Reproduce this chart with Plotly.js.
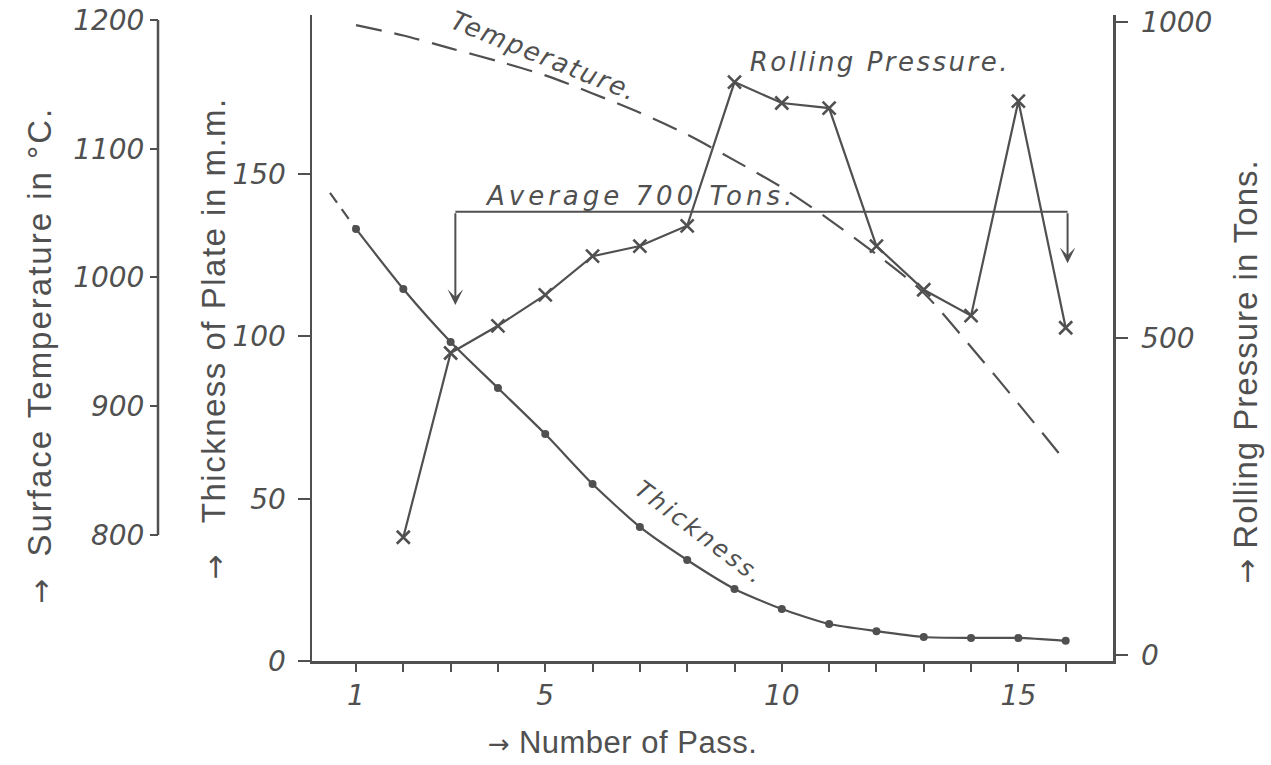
<!DOCTYPE html>
<html><head><meta charset="utf-8">
<script src="https://cdn.plot.ly/plotly-3.0.1.min.js"></script>
<style>
html,body{margin:0;padding:0;background:#fff;}
#chart{width:1271px;height:765px;}
.annotation[data-index="0"] .annotation-text{letter-spacing:2px;}
.annotation[data-index="1"] .annotation-text{letter-spacing:1.5px;}
.annotation[data-index="2"] .annotation-text{letter-spacing:1px;}
.annotation[data-index="3"] .annotation-text{letter-spacing:0.5px;}
.annotation[data-index="4"] .annotation-text{letter-spacing:2px;}
.annotation[data-index="5"] .annotation-text{letter-spacing:2.5px;}
.annotation[data-index="6"] .annotation-text{letter-spacing:4px;}
.annotation[data-index="7"] .annotation-text{letter-spacing:3px;}
</style></head><body><div id="chart"></div>
<script>
// ---- data ----
const passes = [1,2,3,4,5,6,7,8,9,10,11,12,13,14,15,16];
const thicknessMm = [133.1,114.6,98.3,84.1,69.9,54.5,41.3,31.1,22.2,16.0,11.4,9.2,7.4,7.1,7.1,6.2];
const thicknessLeadPass = [0.45, 1];
const thicknessLeadMm = [144.2, 133.1];
const temperatureC = [1196,1188,1178,1168,1157,1143,1128,1111,1091,1070,1045,1018,988,946,902,857];
const pressurePass = [2,3,4,5,6,7,8,9,10,11,12,13,14,15,16];
const pressureTons = [186,477,520,569,630,646,678,905,872,864,646,577,536,875,517];
const averageTons = 700;
const averagePass = [3.1, 16.04];
const averageArrowTipTons = [553, 619];
const xTickVals = passes;
const xTickText = ['1','','','','5','','','','','10','','','','','15',''];
const thickTickVals = [0,50,100,150];
const tempTickVals = [800,900,1000,1100,1200];
const pressTickVals = [0,500,1000];

// ---- styling ----
const INK = '#505050';
const W = 1271, H = 765;
const px = v => v / W;            // pixel -> paper x
const py = v => (H - v) / H;      // pixel -> paper y
const tickFont = {family:'DejaVu Sans', size:28, color:INK, style:'italic'};
const titleFont = {family:'Liberation Sans', size:33, color:INK};
const labelFont = {family:'DejaVu Sans', size:26, color:INK, style:'italic'};
const arrowSpan = sz => '<span style="font-family:\'DejaVu Sans\';font-size:' + sz + 'px;letter-spacing:0">→</span>';

const traces = [
  {x: thicknessLeadPass, y: thicknessLeadMm, xaxis:'x', yaxis:'y', mode:'lines',
   line:{color:INK, width:2.2, dash:'12px,8px'}, hoverinfo:'skip'},
  {x: passes, y: thicknessMm, xaxis:'x', yaxis:'y', mode:'lines+markers',
   line:{color:INK, width:2.2, shape:'spline', smoothing:0.6},
   marker:{symbol:'circle', size:8, color:INK}},
  {x: passes, y: temperatureC, xaxis:'x', yaxis:'y3', mode:'lines',
   line:{color:INK, width:2.2, shape:'spline', smoothing:0.8, dash:'26px,13px'}},
  {x: pressurePass, y: pressureTons, xaxis:'x', yaxis:'y2', mode:'lines+markers',
   line:{color:INK, width:2.2},
   marker:{symbol:'x-thin', size:13, line:{color:INK, width:2.6}, color:INK}},
  {x: averagePass, y: averagePass.map(() => averageTons), xaxis:'x', yaxis:'y2', mode:'lines',
   line:{color:INK, width:2}}
];

const axisBase = {showgrid:false, zeroline:false, ticks:'outside', tickwidth:2, tickcolor:INK,
  linecolor:INK, linewidth:2.5, tickfont:tickFont, fixedrange:true};

const ann = (x, y, text, font, angle) => ({xref:'paper', yref:'paper', x:px(x), y:py(y),
  xanchor:'center', yanchor:'middle', textangle:angle || 0, showarrow:false, text:text, font:font});

const layout = {
  width: W, height: H,
  margin:{l:0, r:0, t:0, b:0},
  paper_bgcolor:'#ffffff', plot_bgcolor:'rgba(0,0,0,0)',
  showlegend:false,
  xaxis: Object.assign({}, axisBase, {domain:[px(312), px(1113)], range:[0.07, 17.0],
    tickvals:xTickVals, ticktext:xTickText, ticklen:8, showline:true, anchor:'y'}),
  yaxis: Object.assign({}, axisBase, {domain:[py(661), py(15)], range:[0, 199],
    tickvals:thickTickVals, ticklen:12, showline:true, anchor:'x', ticklabelstandoff:6}),
  yaxis2: Object.assign({}, axisBase, {overlaying:'y', side:'right', anchor:'x', range:[-9.5, 1011],
    tickvals:pressTickVals, ticklen:12, showline:true, ticklabelstandoff:8}),
  yaxis3: Object.assign({}, axisBase, {overlaying:'y', side:'left', anchor:'free', position:px(158),
    range:[702.1, 1203.9], tickvals:tempTickVals, ticklen:8, showline:false}),
  shapes: [
    {type:'line', xref:'paper', yref:'y3', x0:px(158), x1:px(158), y0:800, y1:1200,
     line:{color:INK, width:2.5}}
  ],
  annotations: [
    // axis titles (0-3)
    ann(39, 356, arrowSpan(30) + '  Surface Temperature in °C.', titleFont, -90),
    ann(213, 338, arrowSpan(30) + '   Thickness of Plate in m.m.', titleFont, -90),
    ann(1245, 372, arrowSpan(30) + ' Rolling Pressure in Tons.', titleFont, -90),
    ann(622, 742, arrowSpan(26) + ' Number of Pass.', Object.assign({}, titleFont, {size:31})),
    // in-plot labels (4-7)
    ann(544, 56, 'Temperature.', labelFont, 22),
    ann(880, 62, 'Rolling Pressure.', labelFont, 0),
    ann(640, 196, 'Average 700 Tons.', labelFont, 0),
    ann(700, 533, 'Thickness.', Object.assign({}, labelFont, {size:24}), 37),
    // average arrows (8-9)
    {xref:'x', yref:'y2', axref:'x', ayref:'y2', x:averagePass[0], y:averageArrowTipTons[0],
     ax:averagePass[0], ay:averageTons, text:'', showarrow:true, arrowhead:3, arrowsize:1.3,
     arrowwidth:2, arrowcolor:INK},
    {xref:'x', yref:'y2', axref:'x', ayref:'y2', x:averagePass[1], y:averageArrowTipTons[1],
     ax:averagePass[1], ay:averageTons, text:'', showarrow:true, arrowhead:3, arrowsize:1.3,
     arrowwidth:2, arrowcolor:INK}
  ]
};

Plotly.newPlot('chart', traces, layout, {staticPlot:true, displayModeBar:false});
</script></body></html>
